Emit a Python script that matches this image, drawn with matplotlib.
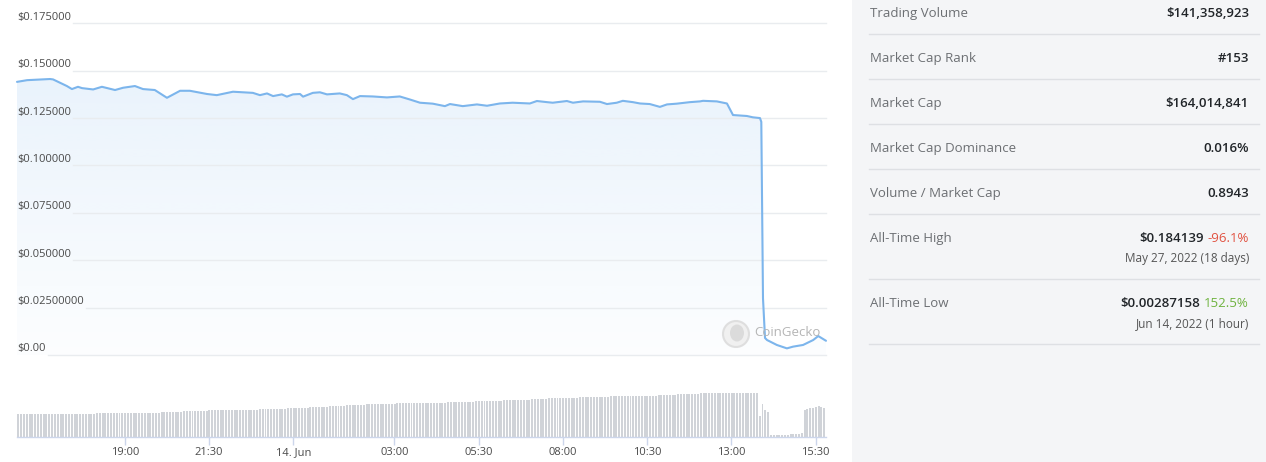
import matplotlib
matplotlib.use("Agg")
import matplotlib.pyplot as plt
import numpy as np
from matplotlib.patches import Rectangle, Circle, Ellipse, PathPatch
from matplotlib.lines import Line2D
from matplotlib.transforms import IdentityTransform
from matplotlib.colors import to_rgb

plt.rcParams['font.family'] = ['Open Sans', 'DejaVu Sans']

# ---------------- data ----------------
# hours since 13 Jun 00:00
price_hours = [15.80, 16.10, 16.78, 16.87, 17.28, 17.43, 17.61, 17.73, 18.06, 18.32,
               18.71, 18.95, 19.30, 19.54, 19.89, 20.25, 20.64, 20.93, 21.44, 21.73,
               22.21, 22.80, 23.01, 23.22, 23.40, 23.66, 23.81, 23.99, 24.20, 24.29,
               24.58, 24.79, 25.00, 25.38, 25.59, 25.77, 25.98, 26.36, 26.78, 27.16,
               27.46, 27.76, 28.14, 28.50, 28.65, 29.03, 29.45, 29.75, 30.13, 30.51,
               31.02, 31.23, 31.53, 31.70, 32.12, 32.30, 32.60, 33.10, 33.31, 33.60,
               33.78, 34.08, 34.29, 34.58, 34.88, 35.09, 35.38, 35.77, 36.07, 36.16,
               36.57, 36.87, 37.05, 37.46, 37.64, 37.85, 37.89, 37.94, 38.00, 38.06,
               38.35, 38.65, 38.83, 39.13, 39.43, 39.58, 39.81]
price_usd = [0.1441, 0.1450, 0.1456, 0.1454, 0.1419, 0.1403, 0.1415, 0.1408, 0.1401, 0.1415,
             0.1398, 0.1410, 0.1419, 0.1403, 0.1398, 0.1357, 0.1394, 0.1394, 0.1377, 0.1371,
             0.1389, 0.1383, 0.1371, 0.1380, 0.1366, 0.1375, 0.1363, 0.1375, 0.1377, 0.1363,
             0.1383, 0.1386, 0.1375, 0.1380, 0.1371, 0.1350, 0.1366, 0.1364, 0.1359, 0.1364,
             0.1348, 0.1331, 0.1326, 0.1313, 0.1324, 0.1313, 0.1322, 0.1315, 0.1327, 0.1331,
             0.1327, 0.1340, 0.1334, 0.1331, 0.1340, 0.1331, 0.1338, 0.1336, 0.1324, 0.1331,
             0.1341, 0.1334, 0.1327, 0.1324, 0.1309, 0.1322, 0.1326, 0.1334, 0.1338, 0.1341,
             0.1338, 0.1327, 0.1266, 0.1261, 0.1254, 0.1250, 0.1230, 0.0300, 0.0090, 0.0079,
             0.0053, 0.0035, 0.0044, 0.0053, 0.0079, 0.0100, 0.0075]

# 24h volume (USD millions), one bar per 5 minutes starting 13 Jun 15:48
volume_start_hour = 15.80
volume_musd = [
    110, 110, 110, 110, 110, 110, 110, 110, 110, 110, 110, 110, 110, 110,
    110, 110, 110, 110, 110, 110, 110, 110, 110, 110, 110, 110, 110, 110,
    115, 115, 115, 115, 115, 115, 115, 115, 115, 115,
    118, 118, 118, 118, 118, 118, 118, 118, 118, 118, 118, 118, 118,
    123, 123, 123, 123, 123, 123, 123, 123,
    127, 127, 127, 127, 127, 127, 127, 127, 127,
    132, 132, 132, 132, 132, 132, 132, 132, 132, 132, 132, 132, 132, 132, 132, 132, 132, 132,
    137, 137, 137, 137, 137, 137, 137, 137, 137, 137,
    141, 141, 141, 141, 141, 141, 141, 141,
    146, 146, 146, 146, 146, 146, 146,
    151, 151, 151, 151, 151, 151,
    156, 156, 156, 156, 156, 156, 156,
    161, 161, 161, 161, 161, 161, 161, 161, 161, 161, 161,
    166, 166, 166, 166, 166, 166, 166, 166, 166, 166, 166, 166, 166, 166, 166, 166, 166, 166,
    171, 171, 171, 171, 171, 171, 171, 171, 171, 171,
    177, 177, 177, 177, 177, 177, 177, 177, 177, 177,
    181, 181, 181, 181, 181, 181, 181, 181, 181, 181,
    186, 186, 186, 186, 186, 186,
    189, 189, 189, 189, 189, 189, 189, 189, 189, 189, 189,
    194, 194, 194, 194, 194, 194, 194, 194, 194, 194, 194,
    199, 199, 199, 199, 199, 199, 199, 199, 199, 199, 199, 199, 199, 199, 199, 199, 199,
    204, 204, 204, 204, 204, 204, 204,
    209, 209, 209, 209, 209, 209, 209, 209,
    215, 215, 215, 215, 215, 215, 215, 215, 215, 215, 215, 215, 215, 215, 215, 215, 215, 215, 215, 215, 215,
    102, 160, 132, 120,
    7, 7, 7, 7, 10, 10, 10, 12, 12, 15, 15, 17,
    132, 137, 140, 140, 148, 153, 148, 141,
]

price_ticks = [0.175, 0.150, 0.125, 0.100, 0.075, 0.050, 0.025, 0.0]
price_tick_labels = ["$0.175000", "$0.150000", "$0.125000", "$0.100000",
                     "$0.075000", "$0.050000", "$0.02500000", "$0.00"]
time_ticks = [19.0, 21.5, 24.0, 27.0, 29.5, 32.0, 34.5, 37.0, 39.5]
time_tick_labels = ["19:00", "21:30", "14. Jun", "03:00", "05:30", "08:00", "10:30", "13:00", "15:30"]

stat_labels = ["Trading Volume", "Market Cap Rank", "Market Cap", "Market Cap Dominance",
               "Volume / Market Cap", "All-Time High", "All-Time Low"]
stat_values = ["$141,358,923", "#153", "$164,014,841", "0.016%", "0.8943", "$0.184139", "$0.00287158"]
stat_changes = [None, None, None, None, None, "-96.1%", "152.5%"]
stat_dates = [None, None, None, None, None, "May 27, 2022 (18 days)", "Jun 14, 2022 (1 hour)"]

# ---------------- layout ----------------
W, H = 1266, 462
fig = plt.figure(figsize=(W / 100, H / 100), dpi=100)
fig.patch.set_facecolor("white")


def rect(x0, y0, x1, y1):
    return [x0 / W, 1 - y1 / H, (x1 - x0) / W, (y1 - y0) / H]


X0, X1 = 15.80, 39.81
LINE = "#7cb5ec"

# right stats panel background
fig.patches.append(Rectangle((852 / W, 0), (W - 852) / W, 1, transform=fig.transFigure,
                             facecolor="#f4f5f7", edgecolor="none", zorder=0))

# ---------------- price axes ----------------
ax = fig.add_axes(rect(17, 23.3, 826, 355))
ax.set_facecolor("none")
ax.axis("off")

poly = ax.fill_between(price_hours, price_usd, 0, facecolor="none", edgecolor="none")
grad = np.zeros((256, 1, 4))
grad[..., :3] = to_rgb(LINE)
grad[:, 0, 3] = np.linspace(0.19, 0.02, 256)
im = ax.imshow(grad, extent=[X0, X1, 0, 0.175], aspect="auto", origin="upper", zorder=1,
               interpolation="bilinear")
clip = PathPatch(poly.get_paths()[0], transform=ax.transData, facecolor="none", edgecolor="none")
ax.add_patch(clip)
im.set_clip_path(clip)

ax.plot(price_hours, price_usd, color=LINE, lw=1.5, zorder=4, solid_joinstyle="round",
        solid_capstyle="round", clip_on=False)
ax.set_xlim(X0, X1)
ax.set_ylim(0, 0.175)

labels = []
for v, lab in zip(price_ticks, price_tick_labels):
    t = ax.text(X0, v + 0.0003, lab, ha="left", va="bottom", fontsize=8, color="#4a4a4a", zorder=5)
    labels.append((v, t))

fig.canvas.draw()
r = fig.canvas.get_renderer()
bb = ax.get_window_extent(r)
for v, t in labels:
    e = t.get_window_extent(r)
    start = (e.x1 + 2 - bb.x0) / bb.width
    ax.axhline(v, xmin=start, xmax=1, color="#e9ecef", lw=1, zorder=2, clip_on=False)

# watermark
fig.add_artist(Circle((736, H - 334), 13, transform=IdentityTransform(), facecolor="#efefef",
                      edgecolor="#dcdcdc", lw=1.5, zorder=2, alpha=0.9))
fig.add_artist(Ellipse((737, H - 333), 14, 17, transform=IdentityTransform(), facecolor="#d9d9d9",
                       edgecolor="none", zorder=2, alpha=0.9))
fig.text(754 / W, 1 - 333 / H, "CoinGecko", fontsize=9.5, color="#b5b5b5", va="center", ha="left",
         zorder=2)

# ---------------- volume axes ----------------
axv = fig.add_axes(rect(17, 388, 826, 436.7))
axv.set_facecolor("none")
vol_hours = volume_start_hour + (np.arange(len(volume_musd)) + 0.5) / 12.0
axv.bar(vol_hours, volume_musd, width=0.7 / 12.0, color="#d0d3d8", edgecolor="none")
axv.set_xlim(X0, X1)
axv.set_ylim(0, 240)
for s in ["top", "left", "right"]:
    axv.spines[s].set_visible(False)
axv.spines["bottom"].set_color("#ccd6eb")
axv.spines["bottom"].set_linewidth(1)
axv.set_yticks([])
axv.set_xticks(time_ticks)
axv.set_xticklabels(time_tick_labels)
axv.tick_params(axis="x", direction="out", length=6, width=1, color="#ccd6eb",
                labelsize=8, labelcolor="#4a4a4a", pad=1.5)

# ---------------- stats panel ----------------
row_y = [13.5, 58.5, 103.5, 148.5, 193.5, 238.5, 303.5]
sep_y = [34, 79, 124, 169, 214, 279, 344]
for y in sep_y:
    fig.add_artist(Line2D([869 / W, 1259 / W], [1 - y / H] * 2, color="#dee0e4", lw=1))

red, green = "#e15241", "#6fb33f"
for lab, val, chg, dt, y in zip(stat_labels, stat_values, stat_changes, stat_dates, row_y):
    fig.text(870 / W, 1 - y / H, lab, fontsize=9.5, color="#6c6f73", va="center", ha="left")
    if chg is None:
        fig.text(1249 / W, 1 - y / H, val, fontsize=9.5, color="#212529", va="center", ha="right",
                 fontweight="semibold")
    else:
        c = fig.text(1249 / W, 1 - y / H, chg, fontsize=9.5, color=red if chg.startswith("-") else green,
                     va="center", ha="right")
        fig.canvas.draw()
        ec = c.get_window_extent(fig.canvas.get_renderer())
        fig.text(ec.x0 / W - 4 / W, 1 - y / H, val, fontsize=9.5, color="#212529", va="center",
                 ha="right", fontweight="semibold")
        fig.text(1249 / W, 1 - (y + 20) / H, dt, fontsize=8.5, color="#555555", va="center", ha="right")

fig.savefig("out.png", dpi=100, facecolor="white")
